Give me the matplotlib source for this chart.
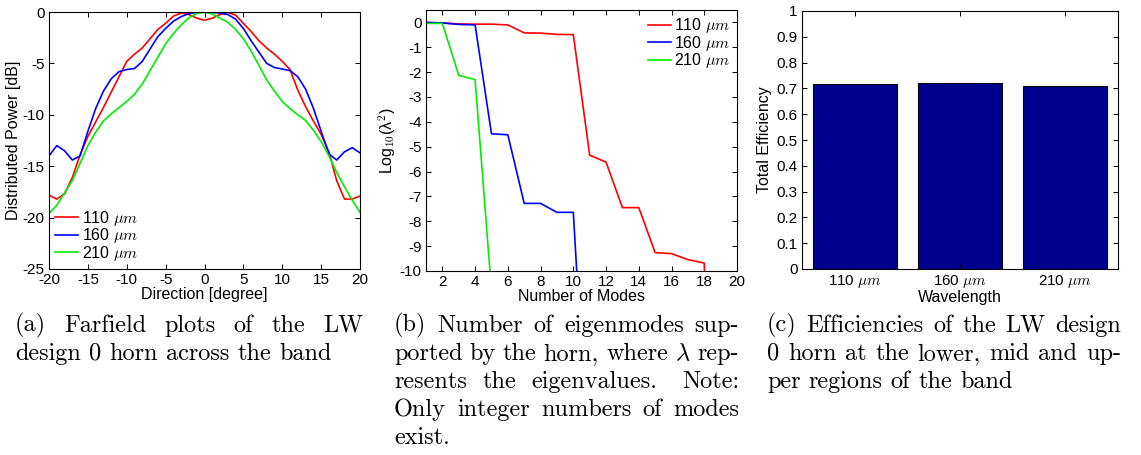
import matplotlib
matplotlib.use('Agg')
import matplotlib.pyplot as plt

# MATLAB-like look: Helvetica-ish axes text, CM math, plain hyphen minus
plt.rcParams['font.family'] = ['Liberation Sans', 'DejaVu Sans']
plt.rcParams['mathtext.fontset'] = 'cm'
plt.rcParams['axes.unicode_minus'] = False
plt.rcParams['xtick.direction'] = 'in'
plt.rcParams['ytick.direction'] = 'in'
plt.rcParams['xtick.top'] = True
plt.rcParams['ytick.right'] = True

# (a) farfield, power in dB vs direction in degrees
angles = list(range(-20, 21))
power_110 = [-17.8, -18.2, -17.7, -16.1, -13.9, -12.1, -10.7, -9.3, -7.8, -6.3,
             -4.8, -4.1, -3.5, -2.6, -1.7, -1.1, -0.4, -0.1, -0.25, -0.6,
             -0.8, -0.6, -0.25, -0.05, -0.3, -1.1, -1.9, -2.8, -3.5, -4.1,
             -4.8, -5.6, -7.6, -9.2, -10.6, -11.9, -13.6, -16.4, -18.2, -18.2, -17.9]
power_160 = [-14.0, -13.0, -13.5, -14.4, -14.0, -11.6, -9.4, -7.7, -6.5, -5.8,
             -5.6, -5.5, -4.8, -3.6, -2.4, -1.6, -0.9, -0.45, -0.15, -0.05,
             0.0, -0.05, -0.1, -0.25, -0.7, -1.6, -2.8, -3.9, -5.0, -5.4,
             -5.55, -5.7, -6.3, -7.5, -9.35, -11.6, -13.8, -14.4, -13.6, -13.2, -13.7]
power_210 = [-19.6, -18.8, -17.6, -16.4, -14.7, -13.0, -11.7, -10.6, -9.9, -9.3,
             -8.7, -8.0, -7.0, -5.7, -4.4, -3.1, -2.1, -1.26, -0.55, -0.15,
             0.0, -0.2, -0.6, -1.0, -1.7, -2.6, -3.8, -5.2, -6.6, -7.7,
             -8.7, -9.4, -10.0, -10.55, -11.5, -12.6, -14.0, -15.6, -17.0, -18.3, -19.5]

# (b) log10 of squared eigenvalues vs number of modes
modes_110 = list(range(1, 20))
logeig_110 = [0.0, -0.02, -0.06, -0.07, -0.07, -0.1, -0.42, -0.43, -0.48, -0.49,
              -5.34, -5.62, -7.45, -7.45, -9.26, -9.3, -9.54, -9.68, -40.0]
modes_160 = list(range(1, 12))
logeig_160 = [0.0, -0.02, -0.08, -0.1, -4.48, -4.52, -7.28, -7.28, -7.64, -7.64, -19.0]
modes_210 = list(range(1, 6))
logeig_210 = [-0.04, -0.04, -2.13, -2.3, -10.8]

# (c) total efficiency per wavelength
wavelengths = ['110 $\\mu m$', '160 $\\mu m$', '210 $\\mu m$']
efficiency = [0.716, 0.722, 0.710]

series_labels = ['110 $\\mu m$', '160 $\\mu m$', '210 $\\mu m$']
series_colors = ['#ff0000', '#0000ff', '#00ee00']

caption_a = ["(a) Farfield plots of the LW",
             "design 0 horn across the band"]
caption_b = ["(b) Number of eigenmodes sup-",
             "ported by the horn, where $\\lambda$ rep-",
             "resents the eigenvalues.  Note:",
             "Only integer numbers of modes",
             "exist."]
caption_c = ["(c) Efficiencies of the LW design",
             "0 horn at the lower, mid and up-",
             "per regions of the band"]

W, H = 1141, 455
TICK = 11
LAB = 11.5
LEG = 11.5
CAP = 17.5


def px_axes(fig, left, top, right, bottom):
    return fig.add_axes([left / W, 1 - bottom / H, (right - left) / W, (bottom - top) / H])


def style(ax):
    ax.tick_params(labelsize=TICK, length=3.5, width=0.7, pad=3)
    for s in ax.spines.values():
        s.set_linewidth(0.8)


def put_caption(fig, lines, x0, x1, y0, step, size):
    # justified lines like the LaTeX subcaption, last line left ragged,
    # a double space (end of sentence) stretches a bit more
    r = fig.canvas.get_renderer()
    for k, line in enumerate(lines):
        y = 1 - (y0 + k * step) / H
        words, weights = [], []
        for part in line.split(' '):
            if part == '':
                weights[-1] += 0.6
            else:
                words.append(part)
                weights.append(1.0)
        weights = weights[:-1]
        texts = [fig.text(0, y, w, fontsize=size, family='cmr10', va='baseline') for w in words]
        widths = [t.get_window_extent(r).width for t in texts]
        if k == len(lines) - 1:
            gaps = [size * 100 / 72 * 0.333] * len(weights)
        else:
            unit = (x1 - x0 - sum(widths)) / sum(weights)
            gaps = [unit * g for g in weights]
        x = x0
        for i, (t, w) in enumerate(zip(texts, widths)):
            t.set_x(x / W)
            if i < len(gaps):
                x += w + gaps[i]


fig = plt.figure(figsize=(W / 100, H / 100), dpi=100)

# panel (a)
ax1 = px_axes(fig, 49, 12, 360, 269)
for vals, c, lab in zip([power_110, power_160, power_210], series_colors, series_labels):
    ax1.plot(angles, vals, color=c, lw=1.2, label=lab)
ax1.set_xlim(-20, 20)
ax1.set_ylim(-25, 0)
ax1.set_xticks(range(-20, 21, 5))
ax1.set_yticks(range(-25, 1, 5))
ax1.set_xlabel('Direction [degree]', fontsize=LAB, labelpad=0)
ax1.set_ylabel('Distributed Power [dB]', fontsize=LAB, labelpad=1)
style(ax1)
ax1.legend(loc='lower left', bbox_to_anchor=(0.01, 0.012), frameon=False, fontsize=LEG,
           handlelength=1.45, handletextpad=0.2, labelspacing=-0.1, borderpad=0.2, borderaxespad=0)

# panel (b)
ax2 = px_axes(fig, 426, 10, 737, 271)
for xs, vals, c, lab in zip([modes_110, modes_160, modes_210],
                            [logeig_110, logeig_160, logeig_210], series_colors, series_labels):
    ax2.plot(xs, vals, color=c, lw=1.2, label=lab)
ax2.set_xlim(1, 20)
ax2.set_ylim(-10, 0.5)
ax2.set_xticks(range(2, 21, 2))
ax2.set_yticks(range(-10, 1))
ax2.set_xlabel('Number of Modes', fontsize=LAB, labelpad=0)
ax2.set_ylabel('Log$_{10}$(λ$^{2}$)', fontsize=LAB, labelpad=1)
style(ax2)
ax2.legend(loc='upper right', bbox_to_anchor=(0.99, 0.988), frameon=False, fontsize=LEG,
           handlelength=1.45, handletextpad=0.2, labelspacing=-0.1, borderpad=0.2, borderaxespad=0)

# panel (c)
ax3 = px_axes(fig, 802, 11, 1118, 269)
ax3.bar(range(1, 4), efficiency, width=0.8, color='#00008f', edgecolor='black', linewidth=0.8)
ax3.set_xlim(0.5, 3.5)
ax3.set_ylim(0, 1)
ax3.set_xticks(range(1, 4))
ax3.set_xticklabels(wavelengths)
ax3.set_yticks([i / 10 for i in range(11)])
ax3.set_yticklabels(['0'] + ['0.%d' % i for i in range(1, 10)] + ['1'])
ax3.set_xlabel('Wavelength', fontsize=LAB, labelpad=0)
ax3.set_ylabel('Total Efficiency', fontsize=LAB)
ax3.yaxis.set_label_coords(-0.095, 0.5)
style(ax3)

put_caption(fig, caption_a, 15, 363, 331.7, 28.1, CAP)
put_caption(fig, caption_b, 394, 739, 331.7, 28.1, CAP)
put_caption(fig, caption_c, 767, 1121, 331.7, 28.1, CAP)

fig.savefig('out.png', dpi=100)
